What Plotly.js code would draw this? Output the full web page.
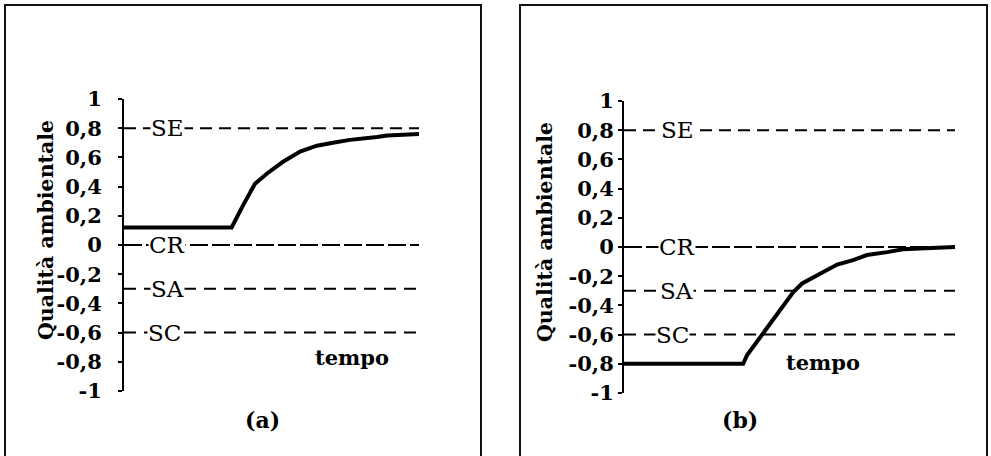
<!DOCTYPE html>
<html>
<head>
<meta charset="utf-8">
<script src="https://cdn.plot.ly/plotly-3.0.1.min.js"></script>
<style>html,body{margin:0;padding:0;background:#fff;}#chart{width:991px;height:456px;}</style>
</head>
<body>
<div id="chart"></div>
<script>
// ---- data ----
const tempoA = [0, 36.5, 40.3, 44.4, 48.5, 53.9, 59.7, 65.4, 70.8, 76.6, 85.8, 89.2, 100];
const qualitaA = [0.12, 0.12, 0.27, 0.42, 0.49, 0.57, 0.64, 0.68, 0.70, 0.72, 0.74, 0.75, 0.76];
const tempoB = [0, 36, 37.2, 42, 47.1, 51.1, 53.8, 59.2, 64.4, 69.2, 73.4, 79.5, 84.3, 89.4, 100];
const qualitaB = [-0.8, -0.8, -0.74, -0.59, -0.43, -0.31, -0.25, -0.18, -0.12, -0.09, -0.055, -0.035, -0.015, -0.01, 0];
const soglieNomi = ['SE', 'CR', 'SA', 'SC'];
const soglieValori = [0.8, 0, -0.3, -0.6];
const tempoEstremi = [0, 100];
const tickVals = [1, 0.8, 0.6, 0.4, 0.2, 0, -0.2, -0.4, -0.6, -0.8, -1];
const tickText = ['1', '0,8', '0,6', '0,4', '0,2', '0', '-0,2', '-0,4', '-0,6', '-0,8', '-1'];
const pannelli = ['(a)', '(b)'];
const titoloY = 'Qualità ambientale';
const titoloX = 'tempo';

// ---- helpers (pixel -> paper) ----
const W = 991, H = 456;
const px = v => v / W;
const py = v => 1 - v / H;
const SERIF = 'DejaVu Serif, Liberation Serif, serif';

const dashes = {SE: '12px,7px', CR: '18px,4px', SA: '12px,8px', SC: '12px,8px'};

const traces = [];
[['x', 'y'], ['x2', 'y2']].forEach(([xa, ya]) => {
  soglieNomi.forEach((n, i) => {
    traces.push({
      type: 'scatter', mode: 'lines', xaxis: xa, yaxis: ya,
      x: tempoEstremi, y: [soglieValori[i], soglieValori[i]],
      line: {color: '#000', width: 2, dash: dashes[n]}, hoverinfo: 'skip'
    });
  });
});
traces.push({type: 'scatter', mode: 'lines', xaxis: 'x', yaxis: 'y', x: tempoA, y: qualitaA,
  line: {color: '#000', width: 4}});
traces.push({type: 'scatter', mode: 'lines', xaxis: 'x2', yaxis: 'y2', x: tempoB, y: qualitaB,
  line: {color: '#000', width: 4}});

const tickFont = {family: SERIF, size: 21, color: '#000', weight: 'bold'};
function yAx(domain, anchor, standoff) {
  return {
    domain: domain, anchor: anchor, range: [-1, 1], fixedrange: true,
    showline: true, linecolor: '#000', linewidth: 2,
    ticks: 'outside', ticklen: 4, tickwidth: 2, tickcolor: '#000',
    tickvals: tickVals, ticktext: tickText, tickfont: tickFont,
    ticklabelstandoff: standoff,
    showgrid: false, zeroline: false
  };
}
function yIn(overlay, anchor) {
  return {
    overlaying: overlay, anchor: anchor, side: 'left', range: [-1, 1],
    showline: false, ticks: 'inside', ticklen: 4, tickwidth: 2, tickcolor: '#000',
    tickvals: tickVals, showticklabels: false, showgrid: false, zeroline: false
  };
}
function xAx(domain, anchor) {
  return {domain: domain, anchor: anchor, range: tempoEstremi, visible: false, fixedrange: true};
}

const annotations = [];
const labelX = [[14.6, 14.6, 14.6, 13.6], [16.3, 16.0, 16.0, 14.5]];
[['x', 'y'], ['x2', 'y2']].forEach(([xa, ya], p) => {
  soglieNomi.forEach((n, i) => {
    annotations.push({
      xref: xa, yref: ya, x: labelX[p][i], y: soglieValori[i], text: n, showarrow: false,
      bgcolor: '#fff', borderpad: 0,
      font: {family: SERIF, size: 23, color: '#000'}
    });
  });
});
// axis titles and panel captions
[[32, 230, 352, 372, 243], [545, 232, 862, 377, 760]].forEach((c, p) => {
  annotations.push({xref: 'paper', yref: 'paper', x: px(c[0]), y: py(c[1]), text: titoloY,
    textangle: -90, showarrow: false, font: {family: SERIF, size: 20.5, color: '#000', weight: 'bold'}});
  annotations.push({xref: 'paper', yref: 'paper', x: px(c[2]), y: py(c[3]), text: titoloX,
    showarrow: false, font: {family: SERIF, size: 21, color: '#000', weight: 'bold'}});
  annotations.push({xref: 'paper', yref: 'paper', x: px(c[4]), y: py(435), text: pannelli[p],
    showarrow: false, font: {family: SERIF, size: 22, color: '#000', weight: 'bold'}});
});

const shapes = [
  {type: 'rect', xref: 'paper', yref: 'paper', x0: px(5), x1: px(481), y0: py(458), y1: py(5),
    line: {color: '#111', width: 2}},
  {type: 'rect', xref: 'paper', yref: 'paper', x0: px(520), x1: px(987), y0: py(458), y1: py(5),
    line: {color: '#111', width: 2}}
];

const layout = {
  width: W, height: H, margin: {l: 0, r: 0, t: 0, b: 0, pad: 0},
  paper_bgcolor: '#fff', plot_bgcolor: 'rgba(0,0,0,0)', showlegend: false,
  xaxis: xAx([px(124), px(419)], 'y'),
  yaxis: yAx([py(391), py(99)], 'x', 12),
  xaxis2: xAx([px(624), px(955)], 'y2'),
  yaxis2: yAx([py(393), py(101)], 'x2', 0),
  yaxis3: yIn('y', 'x'),
  yaxis4: yIn('y2', 'x2'),
  annotations: annotations, shapes: shapes
};

Plotly.newPlot('chart', traces, layout, {displayModeBar: false, staticPlot: true});
</script>
</body>
</html>
